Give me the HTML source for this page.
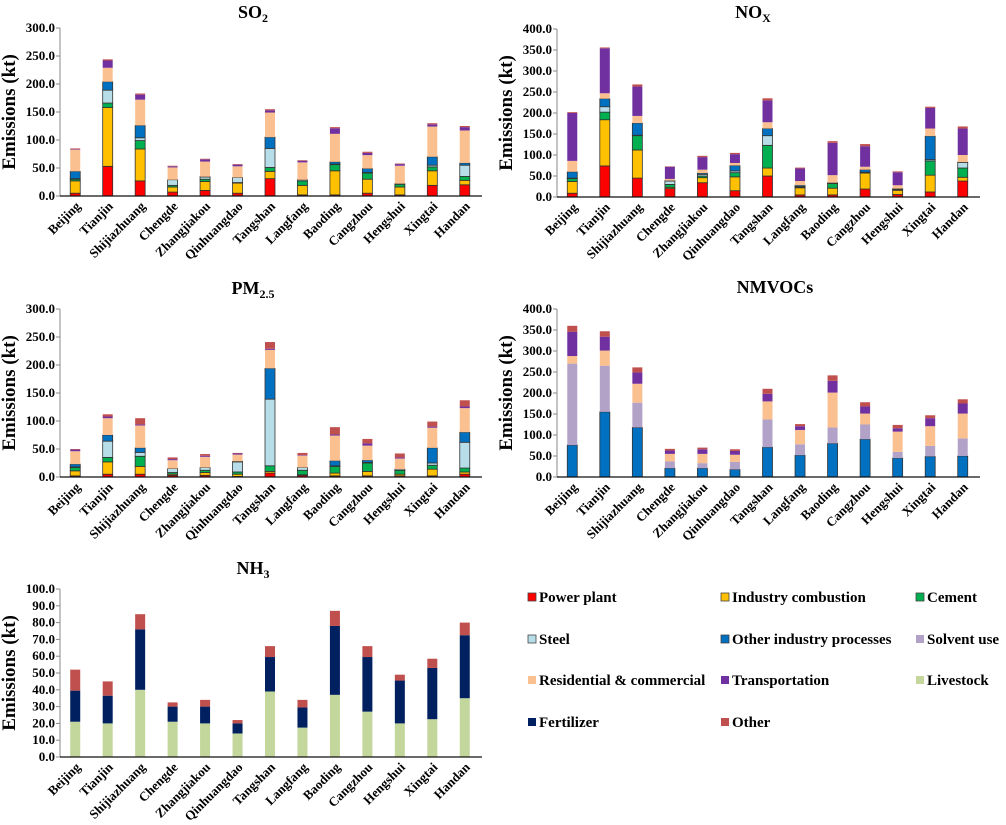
<!DOCTYPE html>
<html><head><meta charset="utf-8"><style>
body{margin:0;background:#fff;width:1006px;height:820px;overflow:hidden}
svg text{font-family:"Liberation Serif","Times New Roman","DejaVu Serif",serif;font-weight:bold}
</style></head><body>
<svg id="c" width="1006" height="820" font-family="Liberation Serif, Times New Roman, DejaVu Serif, serif">
<g id="legend"></g>
</svg>
<script>
const cities=["Beijing","Tianjin","Shijiazhuang","Chengde","Zhangjiakou","Qinhuangdao","Tangshan","Langfang","Baoding","Cangzhou","Hengshui","Xingtai","Handan"];
const sectors=["Power plant","Industry combustion","Cement","Steel","Other industry processes","Solvent use","Residential & commercial","Transportation","Livestock","Fertilizer","Other"];
const sectorColors=["#ff0000","#ffc000","#00b050","#b7dee8","#0070c0","#b3a2c7","#fac090","#7030a0","#c3d69b","#002060","#c0504d"];
// SO2
const so2Power=[5,53,27,7,10,5,31,2,2,5,2,19,20];
const so2Industry=[22,105,57,9,16,18,13,17,43,25,14,26,8];
const so2Cement=[3,8,15,3,4,1,7,8,11,11,5,7,7];
const so2Steel=[1,23,5,10,4,9,34,2,1,1,1,3,20];
const so2OtherInd=[13,15,22,0,0.5,0,20,0,4,7,0,15,4];
const so2Residential=[39,25,46,22,27,20,44,31,50,24,32,54,58];
const so2Transport=[1,13,9,2,4,3,4,3,10,4,3,4,6];
const so2Other=[1,2,2,1,1,1,2,1,2,2,1,2,2];
// NOx
const noxPower=[9,74,45,20,34,15,50,5,5,19,6,12,38];
const noxIndustry=[28,110,67,3,12,33,19,17,16,38,10,40,9];
const noxCement=[7,18,34,7,4,10,54,2,11,1,2,34,22];
const noxSteel=[1,13,1,8,4,4,23,1,1,1,1,3,13];
const noxOtherInd=[15,19,29,1,3,13,17,3,1,6,1,56,1];
const noxResidential=[26,13,17,4,8,6,15,10,18,7,8,18,17];
const noxTransport=[114,107,70,29,30,21,52,30,77,49,31,49,63];
const noxOther=[2,2,5,1,3,3,5,2,4,5,2,3,5];
// PM2.5
const pmPower=[2,5,5,3,3,1,7,3,2,2,2,2,5];
const pmIndustry=[9,22,14,2,5,4,3,1,5,8,3,12,4];
const pmCement=[6,8,18,3,4,4,10,8,12,15,7,7,7];
const pmSteel=[1,29,7,7,5,18,119,5,1,1,2,4,46];
const pmOtherInd=[5,11,8,0,0,1,55,0,9,4,0,27,18];
const pmResidential=[23,30,40,15,19,12,33,21,45,26,19,36,43];
const pmTransport=[3,3,2,2,2,2,2,1,2,4,2,2,3];
const pmOther=[1,4,11,3,3,1,12,4,13,8,7,9,11];
// NMVOCs
const vocOtherInd=[76,155,118,21,21,18,71,52,80,90,45,49,50];
const vocSolvent=[194,110,59,16,12,18,66,26,38,35,15,25,42];
const vocResidential=[18,36,45,18,22,17,43,34,83,26,48,47,59];
const vocTransport=[58,33,27,8,11,9,18,9,28,17,8,19,24];
const vocOther=[14,13,12,4,4,4,12,5,13,10,8,7,10];
// NH3
const nh3Livestock=[21,20,40,21,20,14,39,17.5,37,27,20,22.5,35];
const nh3Fertilizer=[18.5,16.5,36,9,10,6,20.5,12,41,32.5,25.5,30.5,37.5];
const nh3Other=[12.5,8.5,9,2.5,4,2,6.5,4.5,9,6.5,3.5,5.5,7.5];
const so2Ticks=[0,50,100,150,200,250,300];
const noxTicks=[0,50,100,150,200,250,300,350,400];
const nh3Ticks=[0,10,20,30,40,50,60,70,80,90,100];

const NS="http://www.w3.org/2000/svg";
const svg=document.getElementById('c');
function mk(tag,attrs,parent){const e=document.createElementNS(NS,tag);for(const k in attrs)e.setAttribute(k,attrs[k]);(parent||svg).appendChild(e);return e;}

function panel(name,title,sub,titleX,titleY,ax,y0,y1,xEnd,ticks,series){
  const g=mk('g',{});
  
  
  const maxV=ticks[ticks.length-1];
  const yS=v=>y0-(v/maxV)*(y0-y1);
  const step=(xEnd-ax)/cities.length;
  const xS=i=>ax+step*(i+0.5)-1;
  const t=mk('text',{x:titleX,y:titleY,'text-anchor':'middle','font-size':18},g);
  
  
  t.textContent=title;
  if(sub){const ts=mk('tspan',{'font-size':12,dy:4},t);ts.textContent=sub;}
  const yt=mk('text',{x:0,y:0,'text-anchor':'middle','font-size':19,transform:`translate(${ax-45},${(y0+y1)/2}) rotate(-90)`},g);
  
  
  yt.textContent='Emissions (kt)';
  ticks.forEach(v=>{
    const y=yS(v);
    mk('line',{x1:ax-4,x2:ax,y1:y,y2:y,stroke:'#888'},g);
    const tl=mk('text',{x:ax-5,y:y+4,'text-anchor':'end','font-size':13},g);
    
    
    tl.textContent=v.toFixed(1);
  });
  mk('line',{x1:ax,x2:ax,y1:y1,y2:y0,stroke:'#888'},g);
  cities.forEach((c,i)=>{
    let cum=0;
    series.forEach(s=>{
      const v=s.vals[i];if(!v)return;
      const yt=yS(cum+v),yb=yS(cum);
      const r=mk('rect',{x:xS(i)-5,y:yt,width:10,height:Math.max(0,yb-yt),fill:sectorColors[s.k],stroke:s.k<=4?'#333':'none','stroke-width':s.k<=4?0.8:0},g);
      
      
      cum+=v;
    });
    const lx=xS(i)+6,ly=y0+11;
    const l=mk('text',{x:lx,y:ly,'text-anchor':'end','font-size':13,transform:`rotate(-45 ${lx} ${ly})`},g);
    
    
    l.textContent=c;
  });
  mk('line',{x1:ax,x2:xEnd,y1:y0,y2:y0,stroke:'#111','stroke-width':1.2},g);
}
panel('so2','SO','2',253,18,60,196,28,482,so2Ticks,[
 {k:0,vals:so2Power},{k:1,vals:so2Industry},{k:2,vals:so2Cement},{k:3,vals:so2Steel},{k:4,vals:so2OtherInd},{k:6,vals:so2Residential},{k:7,vals:so2Transport},{k:10,vals:so2Other}]);
panel('nox','NO','X',753,18,557,197,29,980,noxTicks,[
 {k:0,vals:noxPower},{k:1,vals:noxIndustry},{k:2,vals:noxCement},{k:3,vals:noxSteel},{k:4,vals:noxOtherInd},{k:6,vals:noxResidential},{k:7,vals:noxTransport},{k:10,vals:noxOther}]);
panel('pm25','PM','2.5',253,294,60,477,309,482,so2Ticks,[
 {k:0,vals:pmPower},{k:1,vals:pmIndustry},{k:2,vals:pmCement},{k:3,vals:pmSteel},{k:4,vals:pmOtherInd},{k:6,vals:pmResidential},{k:7,vals:pmTransport},{k:10,vals:pmOther}]);
panel('nmvoc','NMVOCs','',775,293,557,477,309,980,noxTicks,[
 {k:4,vals:vocOtherInd},{k:5,vals:vocSolvent},{k:6,vals:vocResidential},{k:7,vals:vocTransport},{k:10,vals:vocOther}]);
panel('nh3','NH','3',253,574,60,757,589,482,nh3Ticks,[
 {k:8,vals:nh3Livestock},{k:9,vals:nh3Fertilizer},{k:10,vals:nh3Other}]);

const lg=document.getElementById('legend');
const legCols=[532,725,920],legRows=[598,640,681,723];
sectors.forEach((s,i)=>{
  const x=legCols[i%3],y=legRows[Math.floor(i/3)];
  const e=mk('g',{},lg);
  
  
  mk('rect',{x:x-4,y:y-5,width:8,height:8,fill:sectorColors[i],stroke:i<=4?'#444':'none','stroke-width':0.8},e);
  const t=mk('text',{x:x+7,y:y+4,'font-size':15},e);
  t.textContent=s;
});
</script>
</body></html>
